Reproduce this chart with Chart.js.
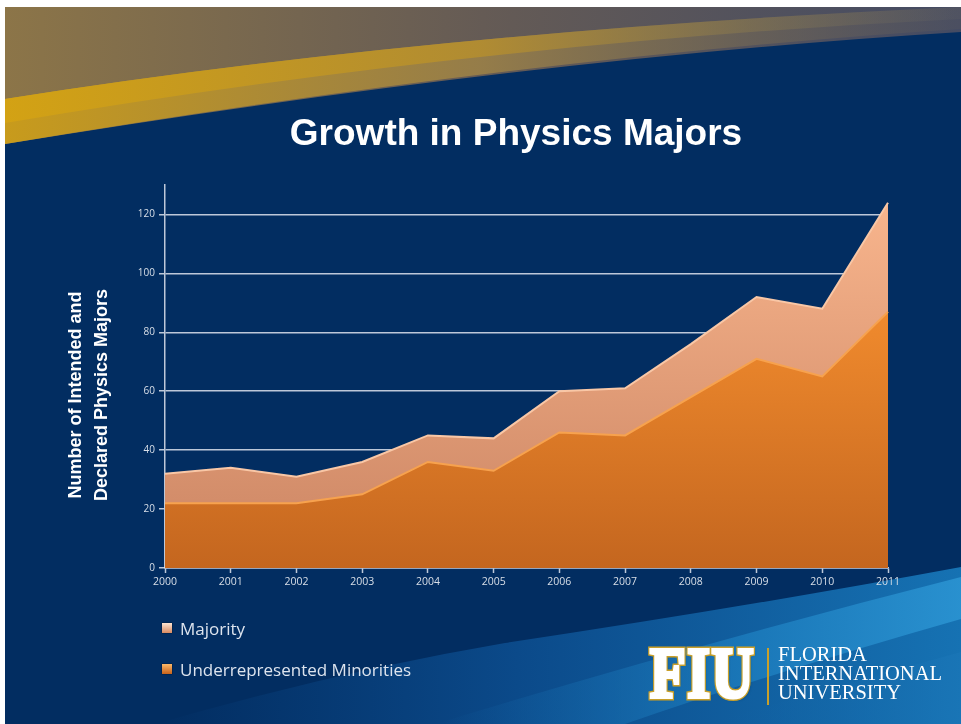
<!DOCTYPE html>
<html>
<head>
<meta charset="utf-8">
<script src="https://cdn.jsdelivr.net/npm/chart.js@4.4.0/dist/chart.umd.min.js"></script>
<style>
  html, body { margin: 0; padding: 0; }
  body { width: 961px; height: 724px; overflow: hidden; position: relative; background: #ffffff; }
  #slide { position: absolute; left: 5px; top: 7px; width: 956px; height: 717px; background: #022d61; overflow: hidden; }
  #deco { position: absolute; left: 0; top: 0; }
  #chartBox { position: absolute; left: 0; top: 0; width: 961px; height: 724px; }
  #title { position: absolute; left: 216px; top: 111px; width: 600px; text-align: center; color: #ffffff;
           font: bold 37px "Liberation Sans", Arial, sans-serif; line-height: 44px; }
  #yTitle { position: absolute; left: -62px; top: 369px; width: 300px; height: 52px; text-align: center;
            color: #ffffff; font: bold 18px "Liberation Sans", Arial, sans-serif; line-height: 26px;
            transform: rotate(-90deg); }
  #legend { position: absolute; left: 162px; top: 617px; color: #dde4ee; font: 17px "Open Sans", sans-serif; }
  .item { height: 41px; display: flex; align-items: flex-start; }
  .box { width: 10px; height: 10px; margin: 6px 8px 0 0; box-shadow: 0 0 1px #000; }
  #logo { position: absolute; left: 646px; top: 640px; height: 70px; }
  .fiu { position: absolute; left: 4px; top: -8px; font: bold 72px "Liberation Serif", serif;
         transform: scaleX(0.81); transform-origin: left top; letter-spacing: 2px; white-space: nowrap; }
  #fiuBack { color: #c9a02a; -webkit-text-stroke: 7px #c9a02a; text-shadow: 2px 2px 3px rgba(0,0,0,0.5); }
  #fiuFront { color: #fff; -webkit-text-stroke: 4px #fff; }
  #bar { position: absolute; left: 121px; top: 8px; width: 2px; height: 57px; background: #c9a02a; }
  #uni { position: absolute; left: 132px; top: 5px; color: #fff; font: 20.5px "Liberation Serif", serif;
         line-height: 19px; white-space: nowrap; }
</style>
</head>
<body>
<div id="slide">
  <svg id="deco" width="956" height="717">
    <defs>
      <linearGradient id="topGrad" x1="0" y1="0" x2="1" y2="0">
        <stop offset="0" stop-color="#8c7548"/>
        <stop offset="0.5" stop-color="#655b55"/>
        <stop offset="1" stop-color="#444b63"/>
      </linearGradient>
      <linearGradient id="goldGrad" x1="0" y1="0" x2="1" y2="0">
        <stop offset="0" stop-color="#d3a214"/>
        <stop offset="0.5" stop-color="#b38d30" stop-opacity="0.9"/>
        <stop offset="1" stop-color="#6b6a66" stop-opacity="0.15"/>
      </linearGradient>
      <linearGradient id="tanGrad" x1="0" y1="0" x2="1" y2="0">
        <stop offset="0" stop-color="#c89b1c"/>
        <stop offset="0.5" stop-color="#9a8048" stop-opacity="0.9"/>
        <stop offset="1" stop-color="#55555e" stop-opacity="0.4"/>
      </linearGradient>
      <linearGradient id="blueGrad" x1="0" y1="0" x2="1" y2="0">
        <stop offset="0" stop-color="#0a4584" stop-opacity="0"/>
        <stop offset="0.45" stop-color="#0b4a8a"/>
        <stop offset="1" stop-color="#1672b3"/>
      </linearGradient>
      <linearGradient id="blueGrad2" x1="0" y1="0" x2="1" y2="0">
        <stop offset="0" stop-color="#1466a8" stop-opacity="0"/>
        <stop offset="0.6" stop-color="#1c7cbd"/>
        <stop offset="1" stop-color="#2c96d4"/>
      </linearGradient>
      <linearGradient id="blueGrad3" x1="0" y1="0" x2="1" y2="0">
        <stop offset="0" stop-color="#0f5c9e" stop-opacity="0"/>
        <stop offset="1" stop-color="#1a76b7"/>
      </linearGradient>
    </defs>
    <path d="M0,0 L956,0 L956,25 Q520,52 0,137 Z" fill="url(#topGrad)"/>
    <path d="M0,92 Q430,24 956,0 L956,22 Q520,50 0,137 Z" fill="url(#tanGrad)"/>
    <path d="M0,92 Q430,24 956,0 L956,12 Q470,36 0,116 Z" fill="url(#goldGrad)"/>
    <path d="M150,717 Q330,665 500,636 Q740,600 956,560 L956,717 Z" fill="url(#blueGrad)"/>
    <path d="M430,717 Q700,635 956,570 L956,612 Q770,665 620,717 Z" fill="url(#blueGrad2)" opacity="0.85"/>
    <path d="M700,717 Q830,680 956,645 L956,717 Z" fill="url(#blueGrad3)" opacity="0.8"/>
  </svg>
</div>

<div id="chartBox"><canvas id="chart"></canvas></div>

<div id="title">Growth in Physics Majors</div>
<div id="yTitle">Number of Intended and<br>Declared Physics Majors</div>
<div id="legend"></div>

<div id="logo">
  <div class="fiu" id="fiuBack">FIU</div>
  <div class="fiu" id="fiuFront">FIU</div>
  <div id="bar"></div>
  <div id="uni">FLORIDA<br>INTERNATIONAL<br>UNIVERSITY</div>
</div>

<script>
const years = ["2000", "2001", "2002", "2003", "2004", "2005", "2006", "2007", "2008", "2009", "2010", "2011"];
const minorities = [22, 22, 22, 25, 36, 33, 46, 45, 58, 71, 65, 87];
const majority = [10, 12, 9, 11, 9, 11, 14, 16, 18, 21, 23, 37];
const seriesNames = ["Underrepresented Minorities", "Majority"];
const yMax = 130;
const yStep = 20;

const gridColor = "rgba(222,228,238,0.85)";
const labelColor = "#d9dfe8";

function vGradient(ctx, y0, y1, c0, c1) {
  const g = ctx.createLinearGradient(0, y0, 0, y1);
  g.addColorStop(0, c0);
  g.addColorStop(1, c1);
  return g;
}

const chart = new Chart(document.getElementById("chart"), {
  type: "line",
  data: {
    labels: years,
    datasets: [
      {
        label: seriesNames[0],
        data: minorities,
        fill: "origin",
        borderColor: "#f7a24e",
        borderWidth: 2,
        pointRadius: 0,
        backgroundColor: (c) => vGradient(c.chart.ctx, 300, 568, "#f28c2e", "#c4661f"),
        legendBox: "linear-gradient(#fbb869, #c8621a)",
      },
      {
        label: seriesNames[1],
        data: majority,
        fill: "-1",
        borderColor: "#f9c7a6",
        borderWidth: 2,
        pointRadius: 0,
        backgroundColor: (c) => vGradient(c.chart.ctx, 200, 500, "#f8b58d", "#d38d6a"),
        legendBox: "linear-gradient(#fde4d2, #d98a60)",
      },
    ],
  },
  options: {
    responsive: true,
    maintainAspectRatio: false,
    animation: false,
    layout: { padding: { left: 120, right: 73, top: 185, bottom: 126 } },
    plugins: {
      legend: { display: false },
      tooltip: { enabled: false },
    },
    elements: { line: { tension: 0 } },
    scales: {
      x: {
        offset: false,
        grid: { drawOnChartArea: false, tickLength: 5, tickColor: gridColor, tickWidth: 1.5 },
        border: { color: gridColor, width: 1.5 },
        ticks: { color: labelColor, padding: 3, maxRotation: 0, font: { family: "Open Sans", size: 10.5 } },
        afterFit: (scale) => { scale.height = 30; },
      },
      y: {
        stacked: true,
        min: 0,
        max: yMax,
        grid: { color: gridColor, lineWidth: 1.5, tickLength: 6, tickColor: gridColor },
        border: { color: gridColor, width: 1.5 },
        ticks: { stepSize: yStep, color: labelColor, padding: 4, font: { family: "Open Sans", size: 10 } },
        afterBuildTicks: (scale) => {
          scale.ticks = scale.ticks.filter((t) => t.value % yStep === 0);
        },
        afterFit: (scale) => { scale.width = 45; },
      },
    },
  },
});

const legend = document.getElementById("legend");
chart.data.datasets.slice().reverse().forEach((ds) => {
  const row = document.createElement("div");
  row.className = "item";
  row.innerHTML = `<span class="box" style="background:${ds.legendBox}"></span><span>${ds.label}</span>`;
  legend.appendChild(row);
});
</script>
</body>
</html>
